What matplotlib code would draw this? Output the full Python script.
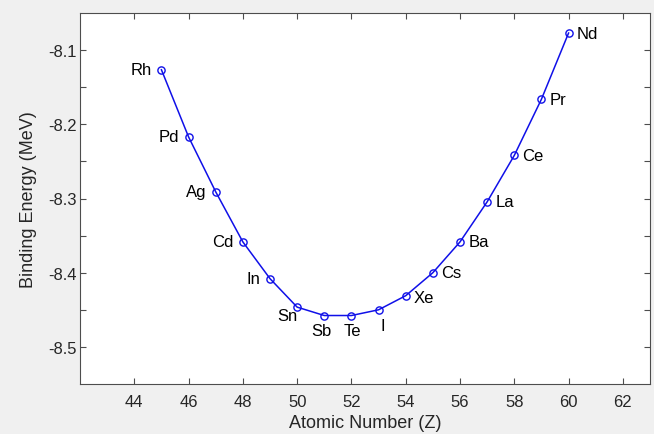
import matplotlib
matplotlib.use("Agg")
import matplotlib.pyplot as plt
from matplotlib.ticker import FixedLocator

# Binding energy per nucleon along an isobar chain
z_values = [45, 46, 47, 48, 49, 50, 51, 52, 53, 54, 55, 56, 57, 58, 59, 60]
binding_energy = [-8.1265, -8.217, -8.291, -8.3585, -8.408, -8.4464, -8.4577, -8.4577,
                  -8.450, -8.431, -8.400, -8.3585, -8.3045, -8.2419, -8.1662, -8.077]
elements = ["Rh", "Pd", "Ag", "Cd", "In", "Sn", "Sb", "Te",
            "I", "Xe", "Cs", "Ba", "La", "Ce", "Pr", "Nd"]

x_ticks = [44, 46, 48, 50, 52, 54, 56, 58, 60, 62]
y_ticks = [-8.5, -8.4, -8.3, -8.2, -8.1]
y_minor = [-8.45, -8.35, -8.25, -8.15]

plt.rcParams["font.family"] = ["Liberation Sans", "DejaVu Sans"]
fs = 12
fs_label = 13
text_col = "#262626"
axis_col = "#4d4d4d"

fig = plt.figure(figsize=(6.54, 4.35), dpi=100, facecolor="#f0f0f0")
ax = fig.add_axes([80 / 654, 1 - 385 / 435, 570 / 654, 371 / 435])
ax.set_facecolor("white")

ax.plot(z_values, binding_energy, color="#1010e8", lw=1.1, marker="o",
        markersize=5.2, markerfacecolor="none", markeredgecolor="#1010e8",
        markeredgewidth=1.0)

# Label placement: (dx, dy) in points, horizontal alignment, vertical alignment
placement = {
    "Rh": (-7, 0, "right", "center"),
    "Pd": (-7, 0, "right", "center"),
    "Ag": (-7, 0, "right", "center"),
    "Cd": (-7, 0, "right", "center"),
    "In": (-7, 0, "right", "center"),
    "Sn": (0, -6, "right", "center"),
    "Sb": (-2, -11, "center", "center"),
    "Te": (1, -11, "center", "center"),
    "I": (3, -11, "center", "center"),
    "Xe": (6, -1, "left", "center"),
    "Cs": (6, 0, "left", "center"),
    "Ba": (6, 0, "left", "center"),
    "La": (6, 0, "left", "center"),
    "Ce": (6, 0, "left", "center"),
    "Pr": (6, 0, "left", "center"),
    "Nd": (6, 0, "left", "center"),
}
for z, e, name in zip(z_values, binding_energy, elements):
    dx, dy, ha, va = placement[name]
    ax.annotate(name, (z, e), xytext=(dx, dy), textcoords="offset points",
                ha=ha, va=va, fontsize=fs, color="black")

ax.set_xlim(42, 63)
ax.set_ylim(-8.55, -8.05)
ax.set_xticks(x_ticks)
ax.set_yticks(y_ticks)
ax.set_yticklabels([f"{v:.1f}" for v in y_ticks])
ax.yaxis.set_minor_locator(FixedLocator(y_minor))
ax.tick_params(which="both", direction="in", top=True, right=True, length=4,
               width=0.8, color=axis_col, labelsize=fs, labelcolor=text_col)
ax.tick_params(axis="x", pad=7)
ax.tick_params(axis="y", pad=2)
for s in ax.spines.values():
    s.set_color(axis_col)
    s.set_linewidth(0.8)

ax.set_xlabel("Atomic Number (Z)", fontsize=fs_label, color=text_col, labelpad=4)
ax.set_ylabel("Binding Energy (MeV)", fontsize=fs_label, color=text_col, labelpad=8)

fig.savefig("out.png", dpi=100, facecolor=fig.get_facecolor())
